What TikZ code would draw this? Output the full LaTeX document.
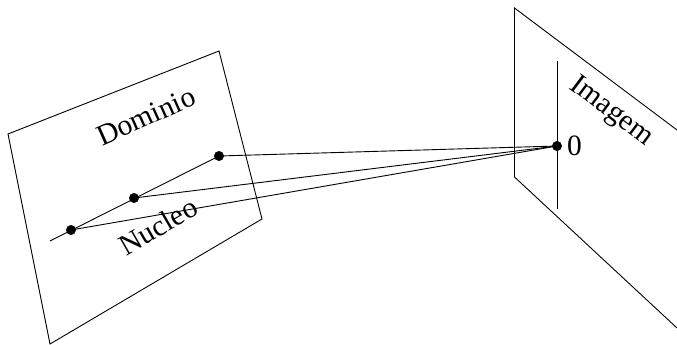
\documentclass[tikz,border=0pt]{standalone}
\usepackage{fontspec}
\setmainfont{Liberation Serif}
\usepackage{xcolor}
\usetikzlibrary{positioning,calc}

\begin{document}
\begin{tikzpicture}[
  x=1pt, y=-1pt,
  dot/.style={draw, circle, fill=black, inner sep=0pt, minimum size=9.5pt},
  plane/.style={draw, line width=0.9pt},
  link/.style={draw, line width=0.9pt},
  label/.style={font=\fontsize{29.5}{30}\selectfont, inner sep=0pt},
]
\useasboundingbox (0,0) rectangle (677,345);
% planes
\draw[plane] (8,134) -- (219,51) -- (262,219) -- (50,344) -- cycle;
\draw[plane] (677,130) -- (514.5,8) -- (514.5,177) -- (677,328);
% points
\node[dot] (kerA) at (71,230) {};
\node[dot] (kerB) at (134,198) {};
\node[dot] (kerC) at (219,156) {};
\node[dot] (zero) at (557,146) {};
\coordinate (kerEnd) at (50,241);
\coordinate (imgTop) at (557,61);
\coordinate (imgBot) at (557,209);
% lines
\draw[link] (kerEnd) -- (kerC.center);
\draw[link] (imgTop) -- (imgBot);
\draw[link] (kerA.center) -- (zero.center);
\draw[link] (kerB.center) -- (zero.center);
\draw[link] (kerC.center) -- (zero.center);
% labels
\node[label, rotate=24] (dominio) at (146,116.5) {Dominio};
\node[label, rotate=30] (nucleo) at (158,226) {Nucleo};
\node[label, rotate=-37] (imagem) at (611,112) {Imagem};
\node[label, right=10pt of zero.center] (zerolabel) {0};
\end{tikzpicture}
\end{document}
